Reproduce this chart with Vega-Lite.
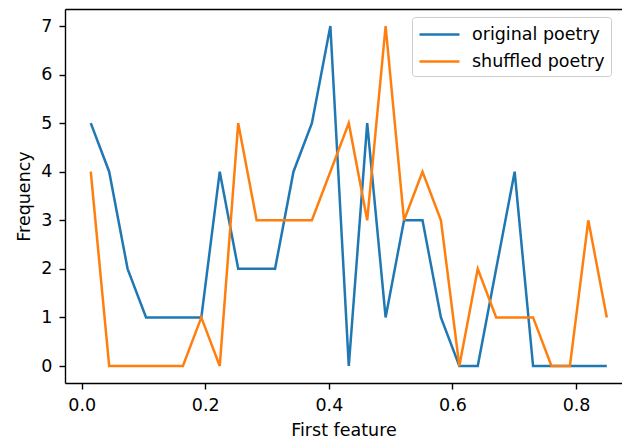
{
  "$schema": "https://vega.github.io/schema/vega-lite/v6.json",
  "width": 557,
  "height": 374,
  "autosize": {"type": "none"},
  "padding": {"left": 65, "top": 9, "right": 0, "bottom": 59},
  "config": {
    "font": "DejaVu Sans",
    "view": {"stroke": null},
    "axis": {
      "labelFontSize": 17.5, "titleFontSize": 17.5, "titleFontWeight": "normal",
      "labelColor": "#000", "titleColor": "#000", "tickColor": "#000", "domainColor": "#000",
      "domainWidth": 1.4, "tickWidth": 1.4, "tickSize": 6, "grid": false
    },
    "legend": {"labelFontSize": 17.5, "labelColor": "#000"}
  },
  "data": {"values": [
    {"x": 0.0147, "y": 5, "series": "original poetry"},
    {"x": 0.0445, "y": 4, "series": "original poetry"},
    {"x": 0.0743, "y": 2, "series": "original poetry"},
    {"x": 0.1042, "y": 1, "series": "original poetry"},
    {"x": 0.1340, "y": 1, "series": "original poetry"},
    {"x": 0.1638, "y": 1, "series": "original poetry"},
    {"x": 0.1936, "y": 1, "series": "original poetry"},
    {"x": 0.2234, "y": 4, "series": "original poetry"},
    {"x": 0.2533, "y": 2, "series": "original poetry"},
    {"x": 0.2831, "y": 2, "series": "original poetry"},
    {"x": 0.3129, "y": 2, "series": "original poetry"},
    {"x": 0.3427, "y": 4, "series": "original poetry"},
    {"x": 0.3725, "y": 5, "series": "original poetry"},
    {"x": 0.4024, "y": 7, "series": "original poetry"},
    {"x": 0.4322, "y": 0, "series": "original poetry"},
    {"x": 0.4620, "y": 5, "series": "original poetry"},
    {"x": 0.4918, "y": 1, "series": "original poetry"},
    {"x": 0.5216, "y": 3, "series": "original poetry"},
    {"x": 0.5515, "y": 3, "series": "original poetry"},
    {"x": 0.5813, "y": 1, "series": "original poetry"},
    {"x": 0.6111, "y": 0, "series": "original poetry"},
    {"x": 0.6409, "y": 0, "series": "original poetry"},
    {"x": 0.6707, "y": 2, "series": "original poetry"},
    {"x": 0.7006, "y": 4, "series": "original poetry"},
    {"x": 0.7304, "y": 0, "series": "original poetry"},
    {"x": 0.7602, "y": 0, "series": "original poetry"},
    {"x": 0.7900, "y": 0, "series": "original poetry"},
    {"x": 0.8198, "y": 0, "series": "original poetry"},
    {"x": 0.8497, "y": 0, "series": "original poetry"},
    {"x": 0.0147, "y": 4, "series": "shuffled poetry"},
    {"x": 0.0445, "y": 0, "series": "shuffled poetry"},
    {"x": 0.0743, "y": 0, "series": "shuffled poetry"},
    {"x": 0.1042, "y": 0, "series": "shuffled poetry"},
    {"x": 0.1340, "y": 0, "series": "shuffled poetry"},
    {"x": 0.1638, "y": 0, "series": "shuffled poetry"},
    {"x": 0.1936, "y": 1, "series": "shuffled poetry"},
    {"x": 0.2234, "y": 0, "series": "shuffled poetry"},
    {"x": 0.2533, "y": 5, "series": "shuffled poetry"},
    {"x": 0.2831, "y": 3, "series": "shuffled poetry"},
    {"x": 0.3129, "y": 3, "series": "shuffled poetry"},
    {"x": 0.3427, "y": 3, "series": "shuffled poetry"},
    {"x": 0.3725, "y": 3, "series": "shuffled poetry"},
    {"x": 0.4024, "y": 4, "series": "shuffled poetry"},
    {"x": 0.4322, "y": 5, "series": "shuffled poetry"},
    {"x": 0.4620, "y": 3, "series": "shuffled poetry"},
    {"x": 0.4918, "y": 7, "series": "shuffled poetry"},
    {"x": 0.5216, "y": 3, "series": "shuffled poetry"},
    {"x": 0.5515, "y": 4, "series": "shuffled poetry"},
    {"x": 0.5813, "y": 3, "series": "shuffled poetry"},
    {"x": 0.6111, "y": 0, "series": "shuffled poetry"},
    {"x": 0.6409, "y": 2, "series": "shuffled poetry"},
    {"x": 0.6707, "y": 1, "series": "shuffled poetry"},
    {"x": 0.7006, "y": 1, "series": "shuffled poetry"},
    {"x": 0.7304, "y": 1, "series": "shuffled poetry"},
    {"x": 0.7602, "y": 0, "series": "shuffled poetry"},
    {"x": 0.7900, "y": 0, "series": "shuffled poetry"},
    {"x": 0.8198, "y": 3, "series": "shuffled poetry"},
    {"x": 0.8497, "y": 1, "series": "shuffled poetry"}
  ]},
  "layer": [
    {
      "mark": {"type": "line", "strokeWidth": 2.5, "clip": true},
      "encoding": {
        "x": {"field": "x", "type": "quantitative",
              "scale": {"domain": [-0.027, 0.8743], "nice": false, "zero": false},
              "axis": {"title": "First feature", "values": [0, 0.2, 0.4, 0.6, 0.8], "format": ".1f", "labelPadding": 7, "titlePadding": 8, "orient": "bottom"}},
        "y": {"field": "y", "type": "quantitative",
              "scale": {"domain": [-0.35, 7.35], "nice": false, "zero": false},
              "axis": {"title": "Frequency", "values": [0, 1, 2, 3, 4, 5, 6, 7], "labelPadding": 7, "titlePadding": 7}},
        "color": {"field": "series", "type": "nominal",
                  "scale": {"domain": ["original poetry", "shuffled poetry"], "range": ["#1f77b4", "#ff7f0e"]},
                  "legend": {"title": null, "orient": "none", "legendX": 347, "legendY": 8,
                             "strokeColor": "#cccccc", "fillColor": "rgba(255,255,255,0.8)", "cornerRadius": 3, "padding": 6,
                             "symbolType": "M-1,0H3", "symbolSize": 400, "symbolStrokeWidth": 2.5,
                             "labelOffset": 31, "rowPadding": 7}}
      }
    },
    {
      "mark": {"type": "point", "opacity": 0},
      "encoding": {
        "x": {"field": "x", "type": "quantitative",
              "scale": {"domain": [-0.027, 0.8743], "nice": false, "zero": false},
              "axis": {"orient": "top", "title": null, "labels": false, "ticks": false, "domain": true}},
        "y": {"field": "y", "type": "quantitative",
              "scale": {"domain": [-0.35, 7.35], "nice": false, "zero": false}}
      }
    }
  ],
  "resolve": {"axis": {"x": "independent"}}
}
